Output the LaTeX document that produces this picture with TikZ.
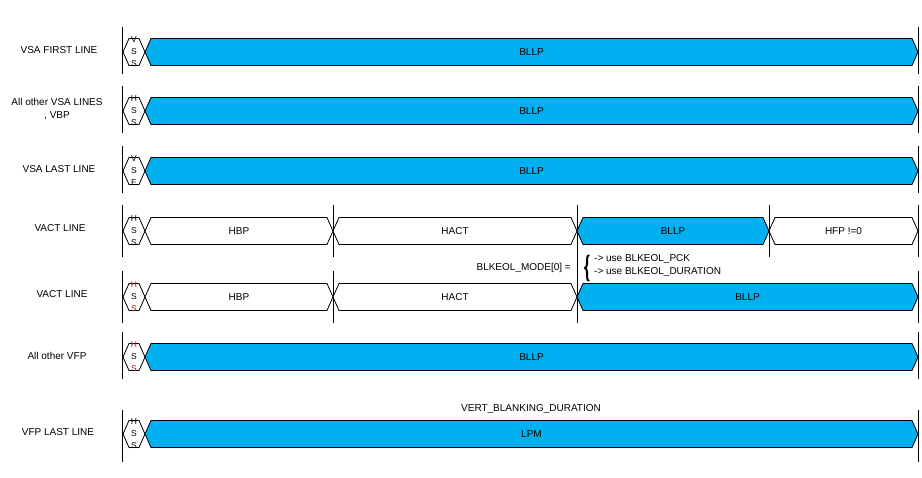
\documentclass[tikz,border=0pt]{standalone}
\usepackage{fontspec}
\setmainfont{Liberation Sans}
\usepackage{tikz}
\usetikzlibrary{decorations.pathreplacing}
\usepackage{xcolor}
\definecolor{bllpBlue}{RGB}{0, 176, 240}
\definecolor{syncRed}{RGB}{170, 20, 20}

% one bus segment: name, x1, x2, y, fill, text
\newcommand{\busseg}[6]{%
  \draw[seg, fill=#5] (#2,#4) -- (#2+6,#4-13.5) -- (#3-6,#4-13.5) -- (#3,#4)
    -- (#3-6,#4+13.5) -- (#2+6,#4+13.5) -- cycle;
  \node[segtext] (#1) at ({(#2+#3)/2},#4) {#6};
}
% sync segment at the start of a line: name, y, letters
\newcommand{\syncseg}[3]{%
  \draw[seg] (123,#2) -- (129,#2-13.5) -- (139,#2-13.5) -- (145,#2)
    -- (139,#2+13.5) -- (129,#2+13.5) -- cycle;
  \node[synctext] (#1) at (134,#2) {#3};
}

\begin{document}
\begin{tikzpicture}[
  x=1pt, y=-1pt,
  seg/.style={draw=black, line width=0.8pt, line join=miter},
  segtext/.style={inner sep=0pt, font=\fontsize{10}{11.5}\selectfont},
  synctext/.style={inner sep=0pt, align=center, font=\fontsize{8.5}{12}\selectfont},
  rowlabel/.style={inner sep=0pt, align=center, font=\fontsize{10}{13}\selectfont},
  tickline/.style={draw=black, line width=0.8pt}
]
  \useasboundingbox (0,0) rectangle (922,478);

  % Row labels
  \node[rowlabel] (lab1) at (59,50)  {VSA FIRST LINE};
  \node[rowlabel] (lab2) at (57,109) {All other VSA LINES\\, VBP};
  \node[rowlabel] (lab3) at (59,169) {VSA LAST LINE};
  \node[rowlabel] (lab4) at (60,228) {VACT LINE};
  \node[rowlabel] (lab5) at (62,294) {VACT LINE};
  \node[rowlabel] (lab6) at (57,356) {All other VFP};
  \node[rowlabel] (lab7) at (58,432) {VFP LAST LINE};

  % Vertical markers
  \foreach \y in {52,111,171,357} {
    \draw[tickline] (122,\y-25) -- (122,\y+22);
    \draw[tickline] (918,\y-25) -- (918,\y+22);
  }
  \foreach \x in {122,333,577,769,918}
    \draw[tickline] (\x,205) -- (\x,257);
  \foreach \x in {122,333,918}
    \draw[tickline] (\x,271) -- (\x,323);
  \draw[tickline] (577,246) -- (577,323);
  \draw[tickline] (122,410) -- (122,462);
  \draw[tickline] (918,410) -- (918,462);

  % VSA first line
  \syncseg{sync1}{52}{V\\S\\S}
  \busseg{bllp1}{145}{918}{52}{bllpBlue}{BLLP}
  % Other VSA lines, VBP
  \syncseg{sync2}{111}{H\\S\\S}
  \busseg{bllp2}{145}{918}{111}{bllpBlue}{BLLP}
  % VSA last line
  \syncseg{sync3}{171}{V\\S\\E}
  \busseg{bllp3}{145}{918}{171}{bllpBlue}{BLLP}
  % VACT line, HFP != 0
  \syncseg{sync4}{231}{H\\S\\S}
  \busseg{hbp4}{145}{333}{231}{white}{HBP}
  \busseg{hact4}{333}{577}{231}{white}{HACT}
  \busseg{bllp4}{577}{769}{231}{bllpBlue}{BLLP}
  \busseg{hfp4}{769}{918}{231}{white}{HFP !=0}
  % VACT line, BLLP to end of line
  \syncseg{sync5}{297}{\textcolor{syncRed}{H}\\S\\\textcolor{syncRed}{S}}
  \busseg{hbp5}{145}{333}{297}{white}{HBP}
  \busseg{hact5}{333}{577}{297}{white}{HACT}
  \busseg{bllp5}{577}{918}{297}{bllpBlue}{BLLP}
  % Other VFP
  \syncseg{sync6}{357}{\textcolor{syncRed}{H}\\S\\\textcolor{syncRed}{S}}
  \busseg{bllp6}{145}{918}{357}{bllpBlue}{BLLP}
  % VFP last line
  \syncseg{sync7}{434}{H\\S\\S}
  \busseg{lpm7}{145}{918}{434}{bllpBlue}{LPM}

  % Annotations
  \node[segtext, anchor=east] (mode) at (571,268) {BLKEOL\_MODE[0] =};
  \coordinate (braceBot) at (589,281);
  \coordinate (braceTop) at (589,255);
  \draw[line width=2pt, decorate, decoration={brace, amplitude=4pt}] (braceBot) -- (braceTop);
  \node[segtext, anchor=west] (optPck) at (594,259) {-> use BLKEOL\_PCK};
  \node[segtext, anchor=west] (optDur) at (594,272) {-> use BLKEOL\_DURATION};
  \node[segtext] (vbd) at (531,409) {VERT\_BLANKING\_DURATION};
\end{tikzpicture}
\end{document}
